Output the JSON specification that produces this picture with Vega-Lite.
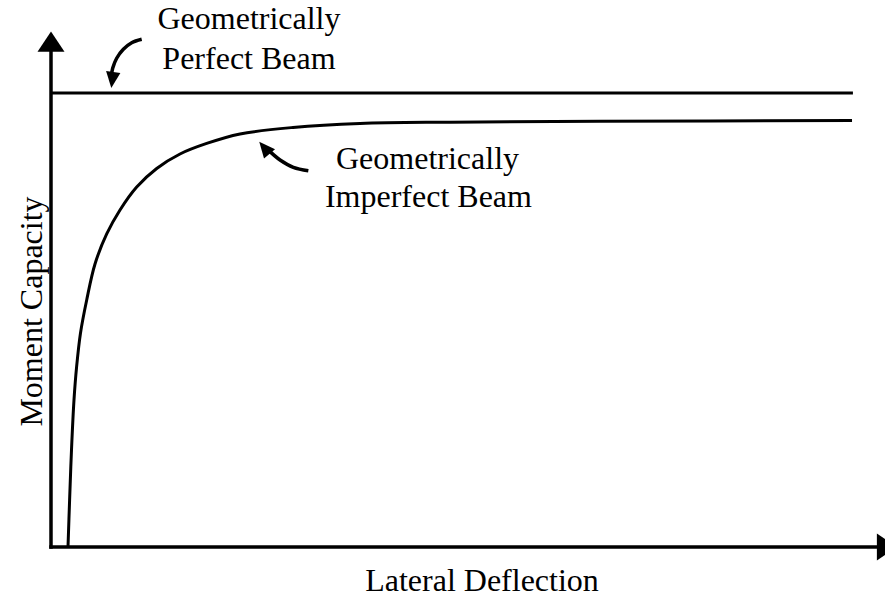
{
  "$schema": "https://vega.github.io/schema/vega-lite/v6.json",
  "width": 834,
  "height": 547,
  "autosize": {"type": "none"},
  "padding": {"left": 51, "top": 0, "right": 0, "bottom": 51},
  "background": "white",
  "config": {"view": {"stroke": null}, "font": "Liberation Serif"},
  "encoding": {
    "x": {
      "field": "x", "type": "quantitative",
      "scale": {"domain": [0, 104], "nice": false, "zero": false},
      "axis": {
        "title": "Lateral Deflection", "domain": false, "ticks": false, "labels": false, "grid": false,
        "titleFont": "Liberation Serif", "titleFontSize": 32, "titleFontWeight": "normal", "titleColor": "black",
        "titleX": 430.5, "titleY": 43, "titleBaseline": "alphabetic", "titleAlign": "center"
      }
    },
    "y": {
      "field": "y", "type": "quantitative",
      "scale": {"domain": [0, 1.205], "nice": false, "zero": false},
      "axis": {
        "title": "Moment Capacity", "domain": false, "ticks": false, "labels": false, "grid": false,
        "titleFont": "Liberation Serif", "titleFontSize": 32, "titleFontWeight": "normal", "titleColor": "black",
        "titleX": -10, "titleY": 311, "titleAngle": 270, "titleBaseline": "alphabetic", "titleAlign": "center"
      }
    }
  },
  "layer": [
    {
      "data": {"values": [
        {"x": 0, "y": 0, "x2": 0, "y2": 1.095},
        {"x": 0, "y": 0, "x2": 103, "y2": 0}
      ]},
      "mark": {"type": "rule", "color": "black", "strokeWidth": 3.5, "strokeCap": "square"},
      "encoding": {"x2": {"field": "x2"}, "y2": {"field": "y2"}}
    },
    {
      "data": {"values": [{"x": 0, "y": 1, "x2": 100}]},
      "mark": {"type": "rule", "color": "black", "strokeWidth": 3},
      "encoding": {"x2": {"field": "x2"}}
    },
    {
      "data": {"values": [
        {"series": "imperfect", "x": 2.12, "y": 0},
        {"series": "imperfect", "x": 2.32, "y": 0.1035},
        {"series": "imperfect", "x": 2.556, "y": 0.2137},
        {"series": "imperfect", "x": 2.868, "y": 0.3239},
        {"series": "imperfect", "x": 3.192, "y": 0.3966},
        {"series": "imperfect", "x": 3.679, "y": 0.4715},
        {"series": "imperfect", "x": 4.452, "y": 0.5442},
        {"series": "imperfect", "x": 5.487, "y": 0.6235},
        {"series": "imperfect", "x": 6.946, "y": 0.6896},
        {"series": "imperfect", "x": 8.605, "y": 0.7425},
        {"series": "imperfect", "x": 10.687, "y": 0.7931},
        {"series": "imperfect", "x": 13.181, "y": 0.8339},
        {"series": "imperfect", "x": 16.087, "y": 0.8658},
        {"series": "imperfect", "x": 19.416, "y": 0.889},
        {"series": "imperfect", "x": 23.569, "y": 0.9099},
        {"series": "imperfect", "x": 30.178, "y": 0.9242},
        {"series": "imperfect", "x": 38.533, "y": 0.933},
        {"series": "imperfect", "x": 49.757, "y": 0.9359},
        {"series": "imperfect", "x": 68.462, "y": 0.9377},
        {"series": "imperfect", "x": 99.888, "y": 0.9396}
      ]},
      "mark": {"type": "line", "color": "black", "strokeWidth": 3, "interpolate": "catmull-rom"},
      "encoding": {"detail": {"field": "series"}}
    },
    {
      "data": {"values": [
        {"series": "arrow1", "x": 11.31, "y": 1.1185},
        {"series": "arrow1", "x": 10.06, "y": 1.111},
        {"series": "arrow1", "x": 9.02, "y": 1.0965},
        {"series": "arrow1", "x": 8.19, "y": 1.0767},
        {"series": "arrow1", "x": 7.69, "y": 1.0546},
        {"series": "arrow1", "x": 7.48, "y": 1.0326},
        {"series": "arrow2", "x": 32.09, "y": 0.829},
        {"series": "arrow2", "x": 30.22, "y": 0.8365},
        {"series": "arrow2", "x": 28.56, "y": 0.8526},
        {"series": "arrow2", "x": 27.31, "y": 0.8709}
      ]},
      "mark": {"type": "line", "color": "black", "strokeWidth": 3.5, "interpolate": "catmull-rom"},
      "encoding": {"detail": {"field": "series"}}
    },
    {
      "data": {"values": [{"x": 0, "y": 1.1132}]},
      "mark": {"type": "point", "shape": "M0,-0.75L1,0.75L-1,0.75Z", "size": 729, "filled": true, "color": "black", "opacity": 1, "strokeWidth": 0}
    },
    {
      "data": {"values": [{"x": 104.25, "y": 0}]},
      "mark": {"type": "point", "shape": "M0.75,0L-0.75,-1L-0.75,1Z", "size": 729, "filled": true, "color": "black", "opacity": 1, "strokeWidth": 0}
    },
    {
      "data": {"values": [{"x": 7.64, "y": 1.0289}]},
      "mark": {"type": "point", "shape": "M0,1L0.9,-1L-0.9,-1Z", "size": 256, "angle": 7, "filled": true, "color": "black", "opacity": 1, "strokeWidth": 0}
    },
    {
      "data": {"values": [{"x": 26.61, "y": 0.8795}]},
      "mark": {"type": "point", "shape": "M0,-1L0.9,1L-0.9,1Z", "size": 256, "angle": 320, "filled": true, "color": "black", "opacity": 1, "strokeWidth": 0}
    },
    {
      "data": {"values": [
        {"x": 24.69, "y": 1.1406, "label": "Geometrically"},
        {"x": 24.69, "y": 1.0524, "label": "Perfect Beam"},
        {"x": 46.95, "y": 0.8328, "label": "Geometrically"},
        {"x": 47.07, "y": 0.748, "label": "Imperfect Beam"}
      ]},
      "mark": {"type": "text", "font": "Liberation Serif", "fontSize": 32, "color": "black", "align": "center", "baseline": "alphabetic"},
      "encoding": {"text": {"field": "label"}}
    }
  ]
}
